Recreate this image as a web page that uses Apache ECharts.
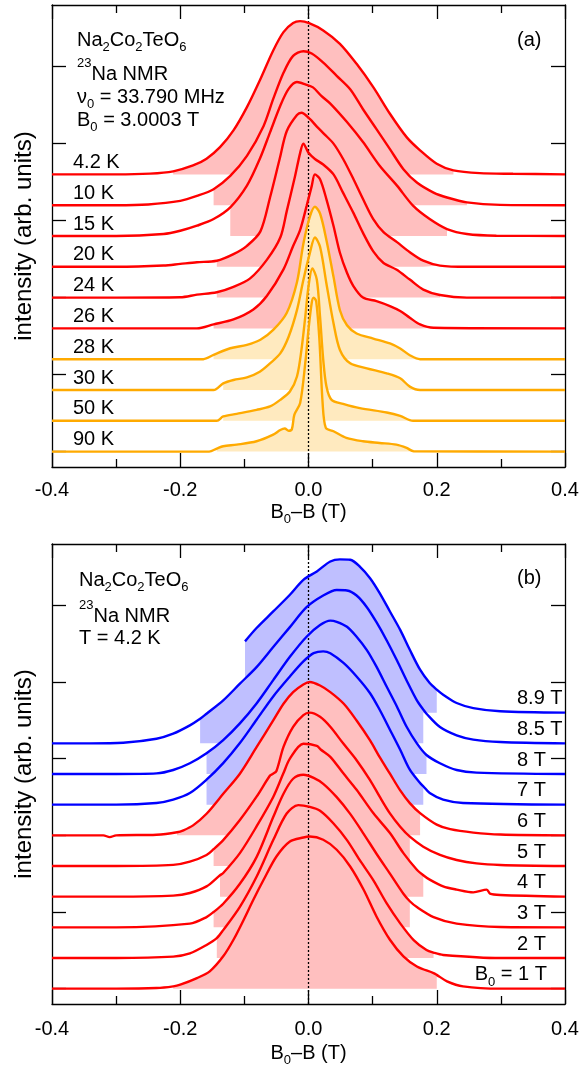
<!DOCTYPE html>
<html>
<head>
<meta charset="utf-8">
<script src="https://cdn.jsdelivr.net/npm/echarts@6/dist/echarts.min.js"></script>
<style>
html, body { margin: 0; padding: 0; background: #fff; }
#chart { width: 582px; height: 1068px; }
</style>
</head>
<body>
<div id="chart"></div>
<script>
// 23Na NMR spectra of Na2Co2TeO6, stacked; each trace normalised to 1, x in tesla (B0-B)

var xTicks = [-0.4, -0.2, 0.0, 0.2, 0.4];
var yTickValues = [0, 2.5, 5, 7.5, 10, 12.5];

// ---- panel (a): temperature dependence, B0 = 3.0003 T ----
var tempLabels = ['4.2 K', '10 K', '15 K', '20 K', '24 K', '26 K', '28 K', '30 K', '50 K', '90 K'];

var t4_2 = [[-0.4,0],[-0.3,0],[-0.247,0.005],[-0.211,0.02],[-0.18,0.058],[-0.159,0.102],[-0.138,0.177],[-0.117,0.286],[-0.096,0.437],[-0.076,0.61],[-0.055,0.805],[-0.039,0.924],[-0.024,0.983],[-0.013,0.995],[0.001,0.982],[0.023,0.935],[0.049,0.848],[0.075,0.718],[0.101,0.567],[0.127,0.394],[0.153,0.242],[0.174,0.156],[0.2,0.069],[0.226,0.026],[0.267,0.008],[0.319,0.004],[0.4,0]];
var t10 = [[-0.4,0],[-0.3,0],[-0.25,0.005],[-0.2,0.028],[-0.174,0.06],[-0.148,0.104],[-0.122,0.19],[-0.096,0.32],[-0.07,0.515],[-0.055,0.69],[-0.039,0.86],[-0.024,0.97],[-0.008,1.0],[0.005,0.985],[0.023,0.926],[0.044,0.84],[0.065,0.753],[0.085,0.623],[0.106,0.494],[0.127,0.364],[0.148,0.234],[0.169,0.147],[0.195,0.082],[0.216,0.05],[0.247,0.018],[0.299,0.002],[0.4,0]];
var t15 = [[-0.4,0],[-0.3,0],[-0.226,0.013],[-0.2,0.034],[-0.174,0.067],[-0.148,0.11],[-0.122,0.186],[-0.096,0.327],[-0.076,0.5],[-0.06,0.673],[-0.044,0.846],[-0.031,0.955],[-0.018,1.0],[-0.005,0.985],[0.007,0.965],[0.02,0.91],[0.034,0.86],[0.06,0.74],[0.085,0.61],[0.111,0.456],[0.138,0.327],[0.163,0.197],[0.189,0.11],[0.216,0.045],[0.247,0.013],[0.293,0.002],[0.4,0]];
var t20 = [[-0.4,0],[-0.3,0],[-0.226,0.008],[-0.2,0.019],[-0.174,0.03],[-0.143,0.039],[-0.117,0.082],[-0.096,0.136],[-0.075,0.23],[-0.06,0.45],[-0.045,0.7],[-0.034,0.88],[-0.018,0.985],[-0.011,1.0],[0.002,0.96],[0.013,0.91],[0.025,0.86],[0.039,0.8],[0.054,0.7],[0.07,0.57],[0.085,0.44],[0.101,0.31],[0.117,0.225],[0.138,0.16],[0.158,0.095],[0.179,0.04],[0.205,0.008],[0.247,0],[0.4,0]];
var t24 = [[-0.4,0],[-0.3,0],[-0.2,0.002],[-0.174,0.019],[-0.143,0.035],[-0.117,0.07],[-0.091,0.125],[-0.065,0.245],[-0.044,0.39],[-0.034,0.56],[-0.021,0.788],[-0.013,0.94],[-0.008,1.0],[0.0,0.94],[0.01,0.9],[0.023,0.864],[0.039,0.8],[0.054,0.68],[0.07,0.55],[0.085,0.42],[0.101,0.3],[0.117,0.225],[0.137,0.182],[0.158,0.117],[0.179,0.052],[0.205,0.017],[0.247,0],[0.4,0]];
var t26 = [[-0.4,0],[-0.3,0],[-0.174,0.0],[-0.148,0.026],[-0.117,0.058],[-0.086,0.123],[-0.065,0.21],[-0.039,0.383],[-0.024,0.535],[-0.013,0.64],[-0.003,0.794],[0.005,0.924],[0.01,1.0],[0.018,0.968],[0.028,0.838],[0.039,0.665],[0.049,0.491],[0.06,0.361],[0.07,0.275],[0.085,0.2],[0.106,0.177],[0.127,0.145],[0.143,0.113],[0.158,0.069],[0.174,0.026],[0.195,0.004],[0.4,0]];
var t28 = [[-0.4,0],[-0.3,0],[-0.164,0.0],[-0.148,0.028],[-0.122,0.071],[-0.096,0.093],[-0.075,0.126],[-0.055,0.19],[-0.034,0.3],[-0.018,0.5],[-0.008,0.75],[0.002,0.924],[0.01,0.99],[0.018,0.946],[0.028,0.773],[0.039,0.535],[0.049,0.318],[0.06,0.22],[0.075,0.167],[0.101,0.134],[0.127,0.102],[0.143,0.069],[0.158,0.026],[0.174,0],[0.4,0]];
var t30 = [[-0.4,0],[-0.3,0],[-0.148,0],[-0.133,0.043],[-0.117,0.065],[-0.096,0.082],[-0.076,0.119],[-0.06,0.173],[-0.044,0.238],[-0.031,0.346],[-0.018,0.519],[-0.008,0.714],[0.002,0.887],[0.01,0.99],[0.018,0.93],[0.028,0.69],[0.039,0.433],[0.049,0.26],[0.065,0.173],[0.091,0.141],[0.122,0.108],[0.143,0.076],[0.158,0.022],[0.174,0],[0.4,0]];
var t50 = [[-0.4,0],[-0.3,0],[-0.143,0],[-0.133,0.028],[-0.112,0.045],[-0.081,0.071],[-0.06,0.093],[-0.044,0.136],[-0.029,0.19],[-0.018,0.288],[-0.011,0.461],[-0.005,0.677],[0.0,0.872],[0.006,0.99],[0.013,0.916],[0.018,0.677],[0.023,0.396],[0.028,0.223],[0.036,0.136],[0.054,0.11],[0.08,0.082],[0.122,0.054],[0.143,0.032],[0.163,0],[0.4,0]];
var t90 = [[-0.4,0],[-0.3,0],[-0.155,0],[-0.143,0.02],[-0.133,0.035],[-0.112,0.045],[-0.081,0.067],[-0.055,0.11],[-0.044,0.14],[-0.037,0.15],[-0.031,0.135],[-0.026,0.145],[-0.022,0.24],[-0.013,0.316],[-0.005,0.576],[0.0,0.792],[0.005,0.965],[0.008,1.0],[0.012,0.976],[0.017,0.727],[0.022,0.316],[0.027,0.154],[0.039,0.132],[0.059,0.089],[0.085,0.067],[0.111,0.056],[0.137,0.045],[0.153,0.024],[0.164,0.002],[0.4,0]];

var tempSpectra = [t4_2, t10, t15, t20, t24, t26, t28, t30, t50, t90];
// x-range of the shaded area under each trace
var tempFill = [[-0.211,0.226],[-0.148,0.247],[-0.122,0.216],[-0.143,0.205],[-0.143,0.205],[-0.148,0.195],[-0.148,0.174],[-0.133,0.174],[-0.133,0.163],[-0.143,0.164]];
var tempOrdered = [true, true, true, true, true, true, false, false, false, false];

// ---- panel (b): field dependence, T = 4.2 K ----
var fieldLabels = ['8.9 T', '8.5 T', '8 T', '7 T', '6 T', '5 T', '4 T', '3 T', '2 T', '1 T'];

var f8_9 = [[-0.099,0.465],[-0.081,0.552],[-0.055,0.66],[-0.029,0.769],[-0.008,0.866],[0.013,0.921],[0.034,0.986],[0.049,1.0],[0.065,0.997],[0.08,0.953],[0.096,0.877],[0.111,0.78],[0.127,0.66],[0.143,0.54],[0.158,0.41],[0.174,0.28],[0.189,0.193],[0.2,0.15],[0.21,0.117],[0.231,0.063],[0.257,0.03],[0.299,0.009],[0.4,0]];
var f8_5 = [[-0.4,0],[-0.341,0],[-0.289,0.004],[-0.237,0.03],[-0.211,0.063],[-0.185,0.117],[-0.169,0.16],[-0.159,0.193],[-0.133,0.28],[-0.107,0.389],[-0.081,0.497],[-0.055,0.628],[-0.029,0.758],[-0.003,0.888],[0.023,0.964],[0.044,1.0],[0.06,0.997],[0.075,0.964],[0.091,0.888],[0.106,0.79],[0.122,0.671],[0.138,0.54],[0.153,0.41],[0.169,0.28],[0.179,0.22],[0.184,0.193],[0.205,0.106],[0.231,0.052],[0.257,0.024],[0.299,0.009],[0.4,0]];
var f8 = [[-0.4,0],[-0.3,0],[-0.237,0.004],[-0.211,0.026],[-0.185,0.07],[-0.159,0.135],[-0.133,0.221],[-0.107,0.33],[-0.081,0.46],[-0.055,0.612],[-0.029,0.764],[-0.003,0.895],[0.018,0.971],[0.034,1.0],[0.044,0.992],[0.06,0.96],[0.075,0.895],[0.091,0.808],[0.106,0.7],[0.122,0.569],[0.138,0.439],[0.153,0.308],[0.169,0.2],[0.184,0.124],[0.205,0.07],[0.231,0.026],[0.262,0.009],[0.4,0]];
var f7 = [[-0.4,0],[-0.3,0],[-0.237,0.011],[-0.211,0.033],[-0.185,0.076],[-0.159,0.163],[-0.133,0.271],[-0.107,0.402],[-0.081,0.554],[-0.055,0.706],[-0.029,0.836],[-0.008,0.934],[0.008,0.988],[0.023,1.0],[0.034,0.988],[0.055,0.923],[0.075,0.836],[0.096,0.727],[0.111,0.619],[0.127,0.489],[0.143,0.358],[0.158,0.228],[0.174,0.141],[0.179,0.12],[0.189,0.076],[0.21,0.033],[0.241,0.011],[0.4,0]];
var f6 = [[-0.4,0],[-0.32,0],[-0.31,-0.012],[-0.3,0],[-0.237,0.004],[-0.205,0.02],[-0.195,0.033],[-0.18,0.065],[-0.159,0.141],[-0.133,0.271],[-0.107,0.402],[-0.081,0.575],[-0.055,0.749],[-0.039,0.858],[-0.024,0.934],[-0.008,0.984],[0.002,1.0],[0.018,0.977],[0.034,0.934],[0.055,0.858],[0.075,0.749],[0.096,0.619],[0.111,0.51],[0.127,0.402],[0.143,0.293],[0.158,0.21],[0.174,0.145],[0.2,0.07],[0.221,0.04],[0.257,0.018],[0.299,0.005],[0.4,0]];
var f5 = [[-0.4,0],[-0.3,0],[-0.211,0.007],[-0.185,0.028],[-0.159,0.072],[-0.148,0.11],[-0.133,0.169],[-0.107,0.3],[-0.081,0.452],[-0.06,0.59],[-0.056,0.6],[-0.05,0.62],[-0.039,0.777],[-0.024,0.908],[-0.008,0.984],[0.002,1.0],[0.018,0.973],[0.034,0.908],[0.054,0.8],[0.075,0.69],[0.096,0.56],[0.111,0.452],[0.127,0.343],[0.143,0.256],[0.158,0.191],[0.179,0.126],[0.205,0.072],[0.231,0.039],[0.262,0.017],[0.299,0.007],[0.4,0]];
var f4 = [[-0.4,0],[-0.3,0],[-0.211,0.007],[-0.185,0.024],[-0.159,0.067],[-0.138,0.14],[-0.133,0.154],[-0.107,0.284],[-0.081,0.458],[-0.055,0.65],[-0.039,0.806],[-0.029,0.9],[-0.008,0.997],[0.013,0.984],[0.019,0.96],[0.034,0.912],[0.054,0.806],[0.075,0.697],[0.101,0.545],[0.127,0.415],[0.148,0.284],[0.169,0.176],[0.179,0.14],[0.189,0.111],[0.21,0.067],[0.231,0.046],[0.257,0.028],[0.278,0.046],[0.283,0.02],[0.299,0.011],[0.4,0]];
var f3 = [[-0.4,0],[-0.3,0],[-0.185,0.024],[-0.159,0.067],[-0.148,0.1],[-0.133,0.154],[-0.107,0.284],[-0.081,0.458],[-0.055,0.719],[-0.039,0.871],[-0.024,0.969],[-0.008,0.995],[0.008,0.975],[0.023,0.936],[0.044,0.849],[0.065,0.74],[0.086,0.61],[0.106,0.48],[0.127,0.35],[0.148,0.219],[0.158,0.17],[0.169,0.132],[0.195,0.067],[0.231,0.024],[0.299,0.002],[0.4,0]];
var f2 = [[-0.4,0],[-0.3,0],[-0.211,0.009],[-0.185,0.03],[-0.159,0.085],[-0.143,0.13],[-0.133,0.182],[-0.107,0.334],[-0.081,0.53],[-0.055,0.769],[-0.034,0.942],[-0.016,0.997],[0.002,0.986],[0.018,0.96],[0.039,0.877],[0.06,0.769],[0.08,0.638],[0.101,0.508],[0.122,0.356],[0.143,0.226],[0.164,0.117],[0.184,0.052],[0.195,0.035],[0.21,0.02],[0.299,0],[0.4,0]];
var f1 = [[-0.4,0],[-0.3,0],[-0.237,0.004],[-0.211,0.015],[-0.2,0.026],[-0.174,0.069],[-0.154,0.113],[-0.133,0.211],[-0.117,0.319],[-0.101,0.45],[-0.086,0.58],[-0.07,0.71],[-0.05,0.862],[-0.029,0.96],[-0.008,0.986],[0.002,0.992],[0.023,0.971],[0.044,0.906],[0.065,0.797],[0.086,0.645],[0.106,0.471],[0.127,0.319],[0.148,0.211],[0.169,0.145],[0.195,0.102],[0.2,0.09],[0.216,0.048],[0.241,0.015],[0.299,0],[0.4,0]];

var fieldSpectra = [f8_9, f8_5, f8, f7, f6, f5, f4, f3, f2, f1];
var fieldFill = [[-0.1,0.2],[-0.169,0.179],[-0.159,0.184],[-0.159,0.179],[-0.205,0.174],[-0.148,0.158],[-0.138,0.179],[-0.148,0.158],[-0.143,0.195],[-0.211,0.2]];
var fieldOrdered = [false, false, false, false, true, true, true, true, true, true];

var traceHeight = 5;   // peak height in baseline steps

var RED = '#ff0000', RED_FILL = '#ffbfbf';
var ORANGE = '#ffaa00', ORANGE_FILL = '#ffeabf';
var BLUE = '#0000ff', BLUE_FILL = '#bfbfff';
var FONT = 'Liberation Sans, Arial, Helvetica, sans-serif';

function buildPanel(spectra, fills, flags, grid, colors) {
  var out = [];
  var n = spectra.length;
  spectra.forEach(function (spec, i) {
    var base = n - 1 - i;
    var c = flags[i] ? colors[0] : colors[1];
    var lo = fills[i][0], hi = fills[i][1];
    out.push({
      type: 'line', xAxisIndex: grid * 2, yAxisIndex: grid * 2,
      data: spec.filter(function (p) { return p[0] >= lo - 1e-9 && p[0] <= hi + 1e-9; })
                .map(function (p) { return [p[0], base + traceHeight * p[1]]; }),
      showSymbol: false, smooth: 0.3, silent: true, z: 1,
      lineStyle: { width: 0 },
      areaStyle: { color: c.fill, opacity: 1, origin: base }
    });
  });
  spectra.forEach(function (spec, i) {
    var base = n - 1 - i;
    var c = flags[i] ? colors[0] : colors[1];
    out.push({
      type: 'line', xAxisIndex: grid * 2, yAxisIndex: grid * 2,
      data: spec.map(function (p) { return [p[0], base + traceHeight * p[1]]; }),
      showSymbol: false, smooth: 0.3, silent: true, z: 3,
      lineStyle: { color: c.line, width: 2.4 }
    });
  });
  out.push({
    type: 'line', xAxisIndex: grid * 2, yAxisIndex: grid * 2,
    data: [[0, -0.5], [0, 14.5]], showSymbol: false, silent: true, z: 2,
    lineStyle: { color: '#000', width: 1.3, type: [2, 2] }
  });
  return out;
}

function fmtX(v) { return (Math.abs(v) < 1e-9 ? 0 : v).toFixed(1); }

function xAxes(grid, margin, gap) {
  var common = {
    type: 'value', gridIndex: grid, min: -0.4, max: 0.4, interval: 0.2,
    axisLine: { onZero: false, lineStyle: { color: '#000', width: 1.3 } },
    axisTick: { inside: true, length: 14, lineStyle: { color: '#000', width: 1.3 } },
    minorTick: { show: true, splitNumber: 2, length: 8, lineStyle: { color: '#000', width: 1.3 } },
    splitLine: { show: false }, minorSplitLine: { show: false }
  };
  var bottom = Object.assign({}, common, {
    position: 'bottom',
    axisLabel: { fontSize: 20, fontFamily: FONT, color: '#000', margin: margin, formatter: fmtX },
    name: '{m|B}{s|0}{m|\u2013B (T)}', nameLocation: 'middle', nameGap: gap,
    nameTextStyle: {
      fontFamily: FONT, color: '#000',
      rich: {
        m: { fontSize: 20, fontFamily: FONT, color: '#000', lineHeight: 28 },
        s: { fontSize: 13, fontFamily: FONT, color: '#000', lineHeight: 13, verticalAlign: 'bottom' }
      }
    }
  });
  var top = Object.assign({}, common, { position: 'top', axisLabel: { show: false } });
  return [bottom, top];
}

function yAxes(grid) {
  var common = {
    type: 'value', gridIndex: grid, min: -0.5, max: 14.5,
    axisLine: { show: true, onZero: false, lineStyle: { color: '#000', width: 1.3 } },
    axisTick: { show: true, inside: true, length: 14, customValues: yTickValues, lineStyle: { color: '#000', width: 1.3 } },
    axisLabel: { show: false }, splitLine: { show: false }
  };
  var left = Object.assign({}, common, {
    position: 'left', name: 'intensity (arb. units)', nameLocation: 'middle', nameGap: 16,
    nameTextStyle: { fontSize: 24, fontFamily: FONT, color: '#000' }
  });
  var right = Object.assign({}, common, { position: 'right' });
  return [left, right];
}

var chart = echarts.init(document.getElementById('chart'), null, { renderer: 'canvas' });

var series = []
  .concat(buildPanel(tempSpectra, tempFill, tempOrdered, 0,
    [{ line: RED, fill: RED_FILL }, { line: ORANGE, fill: ORANGE_FILL }]))
  .concat(buildPanel(fieldSpectra, fieldFill, fieldOrdered, 1,
    [{ line: RED, fill: RED_FILL }, { line: BLUE, fill: BLUE_FILL }]));

var option = {
  animation: false,
  backgroundColor: '#fff',
  grid: [
    { left: 52, top: 5, width: 513, height: 462, outerBoundsMode: 'none' },
    { left: 52, top: 544, width: 513, height: 460, outerBoundsMode: 'none' }
  ],
  xAxis: xAxes(0, 13, 31).concat(xAxes(1, 15, 35)),
  yAxis: yAxes(0).concat(yAxes(1)),
  series: series
};
chart.setOption(option);

// text annotations
var richMain = {
  m: { fontSize: 20, fontFamily: FONT, fill: '#000', lineHeight: 28 },
  s: { fontSize: 13, fontFamily: FONT, fill: '#000', lineHeight: 13, verticalAlign: 'bottom' },
  u: { fontSize: 13, fontFamily: FONT, fill: '#000', lineHeight: 10, verticalAlign: 'top' },
  mu: { fontSize: 20, fontFamily: FONT, fill: '#000', lineHeight: 34 }
};
function txt(x, y, text, align) {
  return {
    type: 'text', x: x, y: y, z: 10, silent: true,
    style: { text: text, rich: richMain, fontSize: 20, fontFamily: FONT, fill: '#000',
             align: align || 'left', verticalAlign: 'middle' }
  };
}

var graphics = [
  txt(77, 40, '{m|Na}{s|2}{m|Co}{s|2}{m|TeO}{s|6}'),
  txt(77, 74, '{u|23}{mu|Na NMR}'),
  txt(77, 97, '{m|\u03bd}{s|0}{m| = 33.790 MHz}'),
  txt(77, 120, '{m|B}{s|0}{m| = 3.0003 T}'),
  txt(517, 40, '{m|(a)}'),
  txt(79, 580, '{m|Na}{s|2}{m|Co}{s|2}{m|TeO}{s|6}'),
  txt(79, 616, '{u|23}{mu|Na NMR}'),
  txt(79, 638, '{m|T = 4.2 K}'),
  txt(517, 578, '{m|(b)}')
];

tempLabels.forEach(function (lab, i) {
  var p = chart.convertToPixel({ xAxisIndex: 0, yAxisIndex: 0 }, [-0.4, tempLabels.length - 1 - i]);
  graphics.push(txt(73, p[1] - 12, '{m|' + lab + '}'));
});
fieldLabels.forEach(function (lab, i) {
  var p = chart.convertToPixel({ xAxisIndex: 2, yAxisIndex: 2 }, [0.4, fieldLabels.length - 1 - i]);
  if (i === fieldLabels.length - 1) {
    graphics.push(txt(547, p[1] - 14, '{m|B}{s|0}{m| = ' + lab + '}', 'right'));
  } else {
    graphics.push(txt(517, p[1] - 14, '{m|' + lab + '}'));
  }
});

chart.setOption({ graphic: graphics });
</script>
</body>
</html>
